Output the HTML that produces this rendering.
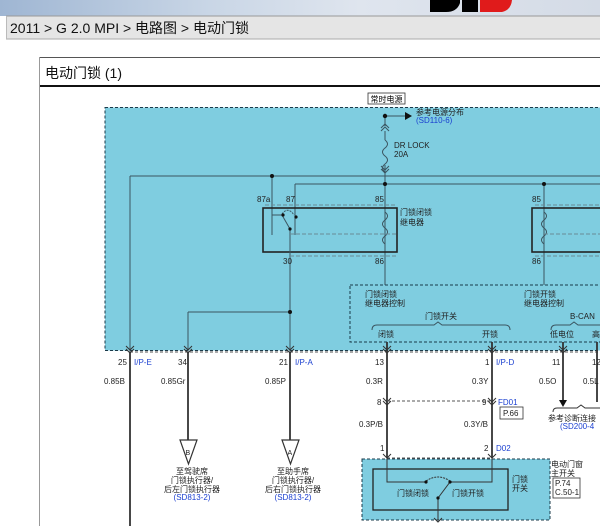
<!DOCTYPE html>
<html><head><meta charset="utf-8"><style>
html,body{margin:0;padding:0;width:600px;height:526px;overflow:hidden;background:#fff;font-family:"Liberation Sans","Noto Sans CJK SC",sans-serif;}
svg{position:absolute;left:0;top:0}
</style></head><body>
<svg width="600" height="526" viewBox="0 0 600 526" xmlns="http://www.w3.org/2000/svg" font-family="Liberation Sans, Noto Sans CJK SC, sans-serif">
<defs>
<linearGradient id="bn" x1="0" x2="1" y1="0" y2="0">
<stop offset="0" stop-color="#9fb6d3"/><stop offset="0.35" stop-color="#c9d6e6"/><stop offset="0.6" stop-color="#dfe5ee"/><stop offset="1" stop-color="#d4dbe6"/></linearGradient>
</defs>
<rect x="0" y="0" width="600" height="16" fill="url(#bn)"/>
<path d="M430 0 h30 v3 q-3 9 -14 9 h-16 z" fill="#000"/>
<path d="M462 0 h16 v12 h-16 z" fill="#000"/>
<path d="M480 0 h32 q-1 10 -10 12 h-22 z" fill="#e01b1b"/>
<rect x="6" y="16" width="594" height="23" fill="#e5e5e5"/>
<line x1="6" y1="39" x2="600" y2="39" stroke="#aaa"/>
<line x1="6" y1="16" x2="600" y2="16" stroke="#999"/>
<line x1="6.5" y1="16" x2="6.5" y2="39" stroke="#bbb"/>
<text x="10" y="33" font-size="14" fill="#111">2011 &gt; G 2.0 MPI &gt; 电路图 &gt; 电动门锁</text>
<line x1="39" y1="57.5" x2="600" y2="57.5" stroke="#555"/>
<line x1="39.5" y1="57" x2="39.5" y2="526" stroke="#999"/>
<text x="45" y="78" font-size="14" fill="#111">电动门锁 (1)</text>
<line x1="40" y1="86" x2="600" y2="86" stroke="#111" stroke-width="2"/>

<rect x="368" y="93" width="37" height="11" fill="#fff" stroke="#333" stroke-width="0.8"/>
<text x="386.5" y="102" font-size="8" text-anchor="middle" fill="#000">常时电源</text>

<rect x="105" y="107.5" width="500" height="243" fill="#7fcde0" stroke="#1a3a4a" stroke-dasharray="3,2"/>
<g stroke="#3b5560" stroke-width="1" fill="none">
<line x1="385" y1="116" x2="385" y2="126"/>
<line x1="385" y1="116" x2="405" y2="116"/>
<path d="M381 128 l4 -4 l4 4 M381 131 l4 -4 l4 4"/>
<line x1="385" y1="131" x2="385" y2="140"/>
<path d="M385 140 q5 4 0 8 q-5 4 0 8 q5 4 0 8 q-5 4 0 8"/>
<line x1="385" y1="165" x2="385" y2="184"/>
<path d="M381 166 l4 4 l4 -4 M381 169 l4 4 l4 -4"/>
<line x1="130" y1="176" x2="600" y2="176"/>
<line x1="295" y1="184" x2="600" y2="184"/>
<line x1="130" y1="176" x2="130" y2="526"/>
<line x1="272" y1="176" x2="272" y2="235"/>
<line x1="295" y1="184" x2="295" y2="235"/>
<line x1="385" y1="184" x2="385" y2="285"/>
<line x1="544" y1="184" x2="544" y2="285"/>
<rect x="263" y="208" width="134" height="44" stroke="#222" stroke-width="1.6"/>
<rect x="532" y="208" width="80" height="44" stroke="#222" stroke-width="1.6"/>
<line x1="272" y1="215" x2="282" y2="215"/>
<path d="M282 215 l8 14" />
<line x1="290" y1="229" x2="290" y2="350"/>
<path d="M282 214 q6 -8 12 1" stroke-dasharray="2,1"/>
<path d="M385 212 q5 4 0 8 q-5 4 0 8 q5 4 0 8 q-5 4 0 8"/>
<path d="M544 212 q5 4 0 8 q-5 4 0 8 q5 4 0 8 q-5 4 0 8"/>
<line x1="290" y1="312" x2="188" y2="312"/>
<line x1="188" y1="312" x2="188" y2="440"/>
<line x1="290" y1="350" x2="290" y2="440"/>
</g>
<g stroke="#6a8a96" stroke-dasharray="4,2" fill="none">
<line x1="265" y1="205" x2="397" y2="205"/><line x1="290" y1="234" x2="397" y2="234"/><line x1="290" y1="256" x2="397" y2="256"/>
<line x1="535" y1="205" x2="600" y2="205"/><line x1="544" y1="234" x2="600" y2="234"/><line x1="535" y1="256" x2="600" y2="256"/>
</g>
<g fill="#111">
<circle cx="385" cy="116" r="2.2"/><circle cx="272" cy="176" r="2"/><circle cx="385" cy="184" r="2"/><circle cx="544" cy="184" r="2"/>
<circle cx="290" cy="312" r="2"/><circle cx="283" cy="215" r="1.6"/><circle cx="296" cy="217" r="1.6"/><circle cx="290" cy="229" r="1.6"/>
<path d="M405 112 l7 4 l-7 4z"/>
</g>
<g font-size="8" fill="#222">
<text x="416" y="115">参考电源分布</text>
<text x="416" y="123" fill="#1a3fd0">(SD110-6)</text>
<text x="394" y="148">DR LOCK</text><text x="394" y="157">20A</text>
<text x="257" y="202">87a</text><text x="286" y="202">87</text><text x="375" y="202">85</text><text x="532" y="202">85</text>
<text x="400" y="215">门锁闭锁</text><text x="400" y="225">继电器</text>
<text x="283" y="264">30</text><text x="375" y="264">86</text><text x="532" y="264">86</text>
<text x="365" y="297">门锁闭锁</text><text x="365" y="306">继电器控制</text>
<text x="524" y="297">门锁开锁</text><text x="524" y="306">继电器控制</text>
<text x="425" y="319">门锁开关</text>
<text x="570" y="319">B-CAN</text>
<text x="378" y="337">闭锁</text><text x="482" y="337">开锁</text>
<text x="550" y="337">低电位</text><text x="592" y="337">高</text>
</g>
<rect x="350" y="285" width="260" height="57" fill="none" stroke="#1a3a4a" stroke-dasharray="3,2"/>
<path d="M372 330 q0 -5 5 -5 h57 l4 -3 l4 3 h63 q5 0 5 5" fill="none" stroke="#3b5560"/>
<path d="M551 330 q0 -5 5 -5 h14 l4 -3 l4 3 h24" fill="none" stroke="#3b5560"/>

<g stroke="#333" fill="none">
<line x1="130" y1="352" x2="600" y2="352" stroke-dasharray="3,2" stroke="#555"/>
<line x1="387" y1="342" x2="387" y2="458" stroke-width="1.8"/>
<line x1="492" y1="342" x2="492" y2="458" stroke-width="1.8"/>
<line x1="563" y1="342" x2="563" y2="402" stroke-width="1.8"/>
<line x1="597" y1="342" x2="597" y2="402" stroke-width="1.8"/>
<line x1="188" y1="352" x2="188" y2="440" stroke-width="1.8"/>
<line x1="290" y1="352" x2="290" y2="440" stroke-width="1.8"/>
<line x1="130" y1="352" x2="130" y2="526" stroke-width="1.8"/>
<g stroke-width="1">
<path d="M126 346 l4 4 l4 -4 M126 349 l4 4 l4 -4"/>
<path d="M184 346 l4 4 l4 -4 M184 349 l4 4 l4 -4"/>
<path d="M286 346 l4 4 l4 -4 M286 349 l4 4 l4 -4"/>
<path d="M383 346 l4 4 l4 -4 M383 349 l4 4 l4 -4"/>
<path d="M488 346 l4 4 l4 -4 M488 349 l4 4 l4 -4"/>
<path d="M559 346 l4 4 l4 -4 M559 349 l4 4 l4 -4"/>
<path d="M383 398 l4 4 l4 -4 M383 401 l4 4 l4 -4"/>
<path d="M488 398 l4 4 l4 -4 M488 401 l4 4 l4 -4"/>
</g>
<line x1="387" y1="401" x2="492" y2="401" stroke-dasharray="3,2" stroke="#555"/>
<line x1="387" y1="458" x2="492" y2="458" stroke-dasharray="3,2" stroke="#555"/>
<path d="M180 440 h17 l-8.5 24 z" stroke-width="1.2" fill="#fff"/>
<path d="M282 440 h17 l-8.5 24 z" stroke-width="1.2" fill="#fff"/>
<path d="M553 412 q0 -4 4 -4 h20 l4 -3 l4 3 h15" stroke-width="1"/>
</g>
<path d="M559 400 h8 l-4 7z" fill="#111"/>
<g font-size="8" fill="#222">
<text x="118" y="365">25</text><text x="134" y="365" fill="#1a3fd0">I/P-E</text>
<text x="178" y="365">34</text>
<text x="279" y="365">21</text><text x="295" y="365" fill="#1a3fd0">I/P-A</text>
<text x="375" y="365">13</text>
<text x="485" y="365">1</text><text x="496" y="365" fill="#1a3fd0">I/P-D</text>
<text x="552" y="365">11</text><text x="592" y="365">12</text>
<text x="104" y="384">0.85B</text><text x="161" y="384">0.85Gr</text><text x="265" y="384">0.85P</text>
<text x="366" y="384">0.3R</text><text x="472" y="384">0.3Y</text><text x="539" y="384">0.5O</text><text x="583" y="384">0.5L</text>
<text x="377" y="405">8</text><text x="482" y="405">9</text><text x="498" y="405" fill="#1a3fd0">FD01</text>
<text x="359" y="427">0.3P/B</text><text x="464" y="427">0.3Y/B</text>
<text x="380" y="451">1</text><text x="484" y="451">2</text><text x="496" y="451" fill="#1a3fd0">D02</text>
<text x="548" y="421">参考诊断连接</text><text x="560" y="429" fill="#1a3fd0">(SD200-4</text>
<text x="185.5" y="455" font-size="7">B</text><text x="287.5" y="455" font-size="7">A</text>
<g text-anchor="middle">
<text x="192" y="474">至驾驶席</text><text x="192" y="483">门锁执行器/</text><text x="192" y="492">后左门锁执行器</text><text x="192" y="500" fill="#1a3fd0">(SD813-2)</text>
<text x="293" y="474">至助手席</text><text x="293" y="483">门锁执行器/</text><text x="293" y="492">后右门锁执行器</text><text x="293" y="500" fill="#1a3fd0">(SD813-2)</text>
</g>
</g>
<rect x="500" y="407" width="23" height="12" fill="#fff" stroke="#333" stroke-width="0.8"/>
<text x="503" y="416" font-size="8" fill="#222">P.66</text>

<rect x="362" y="459" width="188" height="61" fill="#7fcde0" stroke="#1a3a4a" stroke-dasharray="3,2"/>
<rect x="373" y="469" width="135" height="41" fill="none" stroke="#222" stroke-width="1.3"/>
<g stroke="#333" fill="none">
<path d="M383 454 l4 4 l4 -4 M488 454 l4 4 l4 -4"/>
<path d="M387 458 v24 h39 M492 458 v24 h-42"/>
<line x1="438" y1="498" x2="450" y2="482"/>
<path d="M426 481 q12 -8 24 0" stroke-dasharray="2,1"/>
<line x1="438" y1="498" x2="438" y2="520"/>
<path d="M434 518 l4 4 l4 -4"/>
</g>
<g fill="#111"><circle cx="426" cy="482" r="1.6"/><circle cx="450" cy="482" r="1.6"/><circle cx="438" cy="498" r="1.6"/></g>
<g font-size="8" fill="#222">
<text x="397" y="496">门锁闭锁</text><text x="452" y="496">门锁开锁</text>
<text x="512" y="482">门锁</text><text x="512" y="491">开关</text>
<text x="551" y="467">电动门窗</text><text x="551" y="476">主开关</text>
</g>
<rect x="553" y="478" width="27" height="20" fill="#fff" stroke="#333" stroke-width="0.8"/>
<text x="555" y="486" font-size="8" fill="#222">P.74</text><text x="555" y="495" font-size="8" fill="#222">C.50-1</text>
</svg>
</body></html>
